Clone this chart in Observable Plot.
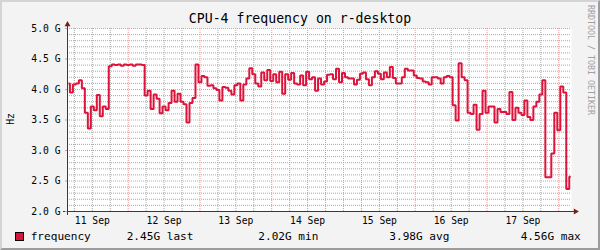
<!DOCTYPE html>
<html>
<head>
<meta charset="utf-8">
<script src="https://cdn.jsdelivr.net/npm/d3@7"></script>
<script src="https://cdn.jsdelivr.net/npm/@observablehq/plot@0.6"></script>
<style>
  html, body { margin: 0; padding: 0; background: #f3f3f3; }
  #wrap { position: relative; width: 600px; height: 250px; background: #f3f3f3; overflow: hidden;
          font-family: "DejaVu Sans Mono", monospace; color: #000; }
  #frame { position: absolute; left: 0; top: 0; width: 600px; height: 250px; box-sizing: border-box;
           border: 2px solid; border-color: #d4d4d4 #9c9c9c #9c9c9c #d4d4d4; }
  #chart { position: absolute; left: 0; top: 0; }
  .txt { position: absolute; white-space: pre; line-height: 1; }
</style>
</head>
<body>
<div id="wrap">
  <div id="frame"></div>
  <div id="chart"></div>
</div>
<script>
// ---- data ----
const title = "CPU-4 frequency on r-desktop";
const unitLabel = "Hz";
const watermark = "RRDTOOL / TOBI OETIKER";
const seriesName = "frequency";
const statLabels = ["last", "min", "avg", "max"];
const statValues = [2.45, 2.02, 3.98, 4.56];
const dayLabels = ["11 Sep", "12 Sep", "13 Sep", "14 Sep", "15 Sep", "16 Sep", "17 Sep"];
const yTickValues = [2.0, 2.5, 3.0, 3.5, 4.0, 4.5, 5.0];
// hourly samples starting 11 Sep 04:00 (GHz)
const firstSample = Date.UTC(2023, 8, 11, 4, 0);
const freqGHz = [
  4.10, 3.95, 4.08, 4.10, 4.15, 4.02, 3.62, 3.36, 3.72, 3.66,
  3.91, 3.56, 3.72, 3.68, 4.38, 4.41, 4.40, 4.41, 4.39, 4.41,
  4.40, 4.41, 4.39, 4.41, 4.41, 4.40, 3.90, 3.98, 3.68, 3.92,
  3.85, 3.61, 3.72, 3.66, 3.78, 3.98, 3.80, 3.93, 3.80, 3.76,
  3.46, 3.78, 3.86, 4.41, 4.12, 4.22, 4.20, 4.06, 4.07, 4.02,
  3.99, 3.82, 4.04, 4.03, 3.98, 3.92, 4.07, 4.10, 3.82, 4.08,
  4.18, 4.35, 4.25, 4.10, 4.05, 4.28, 4.15, 4.32, 4.14, 4.25,
  4.12, 4.29, 3.93, 4.25, 4.16, 4.27, 4.10, 4.08, 4.23, 4.07,
  4.29, 4.17, 4.20, 3.98, 4.18, 4.08, 4.13, 4.24, 4.25, 4.17,
  4.34, 4.12, 4.27, 4.20, 4.18, 4.18, 4.08, 4.16, 4.26, 4.28,
  4.17, 4.07, 4.20, 4.30, 4.26, 4.17, 4.28, 4.20, 4.37, 4.19,
  4.10, 4.10, 4.20, 4.34, 4.31, 4.31, 4.23, 4.19, 4.18, 4.13,
  4.12, 4.08, 4.20, 4.20, 4.18, 4.10, 4.20, 4.22, 4.20, 3.74,
  3.49, 4.43, 4.20, 4.15, 3.62, 3.60, 3.75, 3.34, 3.60, 3.98,
  3.62, 3.72, 3.72, 3.46, 3.68, 3.63, 3.63, 3.60, 3.96, 3.50,
  3.70, 3.62, 3.58, 3.82, 3.55, 3.50, 3.72, 3.80, 3.92, 4.15,
  2.56, 2.56, 2.95, 3.62, 3.33, 4.05, 3.95, 2.37, 2.57
];

// ---- derived ----
const HOUR = 3600e3;
const xDomain = [new Date(Date.UTC(2023, 8, 11, 3, 42)), new Date(Date.UTC(2023, 8, 18, 4, 15))];
const series = freqGHz.map((v, i) => ({t: new Date(firstSample + i * HOUR), v}));
const sixHours = d3.utcHour.every(6).range(xDomain[0], xDomain[1]);
const xMajor = sixHours.filter(d => d.getUTCHours() === 0);
const xMinor = sixHours.filter(d => d.getUTCHours() !== 0);
const dayNoons = dayLabels.map((_, i) => new Date(Date.UTC(2023, 8, 11 + i, 12)));
const yMinor = d3.range(21, 50).filter(d => d % 5 !== 0).map(d => d / 10);

const lineColor = "#dc143c";
const minorGrid = "#a8a8a8";
const majorGrid = "#e69a9a";
const axisColor = "#3a3a3a";
const arrowColor = "#7a1e1e";

const plot = Plot.plot({
  width: 600,
  height: 250,
  marginLeft: 67,
  marginRight: 29,
  marginTop: 28,
  marginBottom: 39,
  style: {background: "transparent", fontFamily: "'DejaVu Sans Mono', monospace", fontSize: "9.7px", color: "#000"},
  x: {type: "utc", domain: xDomain},
  y: {domain: [2, 5]},
  marks: [
    Plot.frame({fill: "white", stroke: "none"}),
    Plot.ruleY(yMinor, {stroke: minorGrid, strokeDasharray: "1,1"}),
    Plot.ruleX(xMinor, {stroke: minorGrid, strokeDasharray: "1,1"}),
    Plot.ruleY(yTickValues, {stroke: majorGrid, strokeDasharray: "1,1"}),
    Plot.ruleX(xMajor, {stroke: majorGrid, strokeDasharray: "1,1"}),
    Plot.line(series, {x: "t", y: "v", curve: "step", stroke: lineColor, strokeWidth: 2,
                       strokeLinejoin: "miter", strokeLinecap: "butt"}),
    Plot.ruleY([2], {stroke: axisColor, insetLeft: -4, insetRight: -4, shapeRendering: "crispEdges"}),
    Plot.ruleX([xDomain[0]], {stroke: axisColor, insetTop: -4, insetBottom: -4, shapeRendering: "crispEdges"}),
    Plot.dot([{t: xDomain[1], v: 2}], {x: "t", y: "v", symbol: "triangle", rotate: 90, r: 2.2,
                                       fill: arrowColor, stroke: "none", dx: 4}),
    Plot.dot([{t: xDomain[0], v: 5}], {x: "t", y: "v", symbol: "triangle", r: 2.2,
                                       fill: arrowColor, stroke: "none", dy: -4}),
    Plot.axisY(yTickValues, {tickFormat: d => d.toFixed(1) + " G", tickSize: 2, tickPadding: 5,
                             stroke: majorGrid, fill: "#000", label: null}),
    Plot.axisX(dayNoons, {tickFormat: (d, i) => dayLabels[i], tickSize: 0, tickPadding: 6,
                          fill: "#000", label: null})
  ]
});
document.getElementById("chart").appendChild(plot);

// ---- text overlays ----
const wrap = document.getElementById("wrap");
function addText(str, css) {
  const el = document.createElement("div");
  el.className = "txt";
  el.textContent = str;
  Object.assign(el.style, css);
  wrap.appendChild(el);
  return el;
}
addText(title, {left: "300px", top: "11.8px", fontSize: "13.2px", transform: "translateX(-50%)"});
addText(unitLabel, {left: "11px", top: "119px", fontSize: "9.7px",
                    transform: "translate(-50%,-50%) rotate(-90deg)"});
addText(watermark, {left: "590.5px", top: "60px", fontSize: "8.3px", color: "#a0a0a0",
                    transform: "translate(-50%,-50%) rotate(90deg)"});
// legend
const sw = document.createElement("div");
Object.assign(sw.style, {position: "absolute", left: "15px", top: "232px", width: "9px", height: "9px",
  boxSizing: "border-box", border: "1px solid #000", background: lineColor});
wrap.appendChild(sw);
addText(seriesName, {left: "30.7px", top: "230.6px", fontSize: "11.1px"});
const statX = [126.7, 258.3, 389.3, 520.7];
statLabels.forEach((lab, i) => {
  addText(statValues[i].toFixed(2) + "G " + lab, {left: statX[i] + "px", top: "230.6px", fontSize: "11.1px"});
});
</script>
</body>
</html>
